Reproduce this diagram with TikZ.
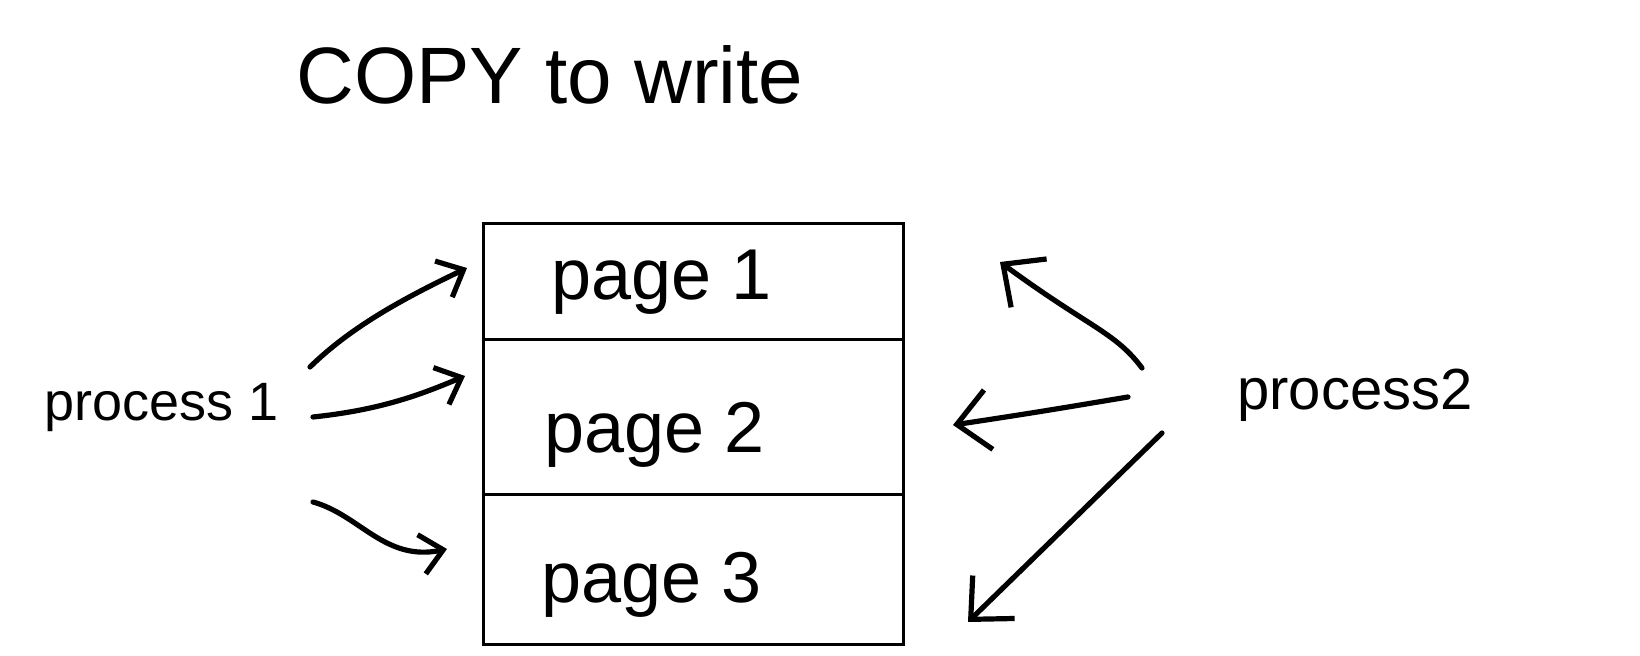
\documentclass[tikz,border=0pt]{standalone}
\usepackage{fontspec}
\setmainfont{Liberation Sans}
\usetikzlibrary{arrows.meta}
\begin{document}
\begin{tikzpicture}[x=0.5pt,y=-0.5pt,
  pagebox/.style={draw,line width=1.6pt,minimum width=210pt,inner sep=0pt,anchor=north west},
  handtext/.style={inner sep=0pt,anchor=center},
  pen/.style={line width=2.6pt,line cap=round,line join=round},
  lhead/.style={-{Straight Barb[length=11pt,width=20pt,line width=2.6pt]}},
  rhead/.style={-{Straight Barb[length=16pt,width=30pt,line width=2.6pt]}}]
\useasboundingbox (0,0) rectangle (1640,656);
% title
\node[handtext,font=\fontsize{40}{44}\selectfont] (title) at (550,75) {COPY to write};
% pages
\node[pagebox,minimum height=58pt] (p1) at (482,222) {};
\node[pagebox,minimum height=77.5pt] (p2) at (482,338) {};
\node[pagebox,minimum height=75pt] (p3) at (482,493) {};
\node[handtext,font=\fontsize{36}{40}\selectfont] (l1) at (662,282) {page 1};
\node[handtext,font=\fontsize{36}{40}\selectfont] (l2) at (655,435) {page 2};
\node[handtext,font=\fontsize{36}{40}\selectfont] (l3) at (652,585) {page 3};
% processes
\node[handtext,font=\fontsize{27}{31}\selectfont] (pr1) at (162,408) {process 1};
\node[handtext,font=\fontsize{29}{33}\selectfont] (pr2) at (1355,395) {process2};
% arrow end points
\coordinate (a1s) at (310,367);
\coordinate (a1e) at (467,268);
\coordinate (a2s) at (313,417);
\coordinate (a2e) at (465,376);
\coordinate (a3s) at (313,502);
\coordinate (a3e) at (447,549);
\coordinate (b1s) at (1142,368);
\coordinate (b1e) at (1000,262);
\coordinate (b2s) at (1128,397);
\coordinate (b2e) at (953,425);
\coordinate (b3s) at (1162,433);
\coordinate (b3e) at (968,622);
% process 1 arrows
\draw[pen,lhead] (a1s) .. controls (350,328) and (400,300) .. (a1e);
\draw[pen,lhead] (a2s) .. controls (380,410) and (420,395) .. (a2e);
\draw[pen,lhead] (a3s) .. controls (360,515) and (385,562) .. (a3e);
% process 2 arrows
\draw[pen,rhead] (b1s) .. controls (1115,332) and (1090,328) .. (b1e);
\draw[pen,rhead] (b2s) .. controls (1080,405) and (1040,412) .. (b2e);
\draw[pen,rhead] (b3s) -- (b3e);
\end{tikzpicture}
\end{document}
